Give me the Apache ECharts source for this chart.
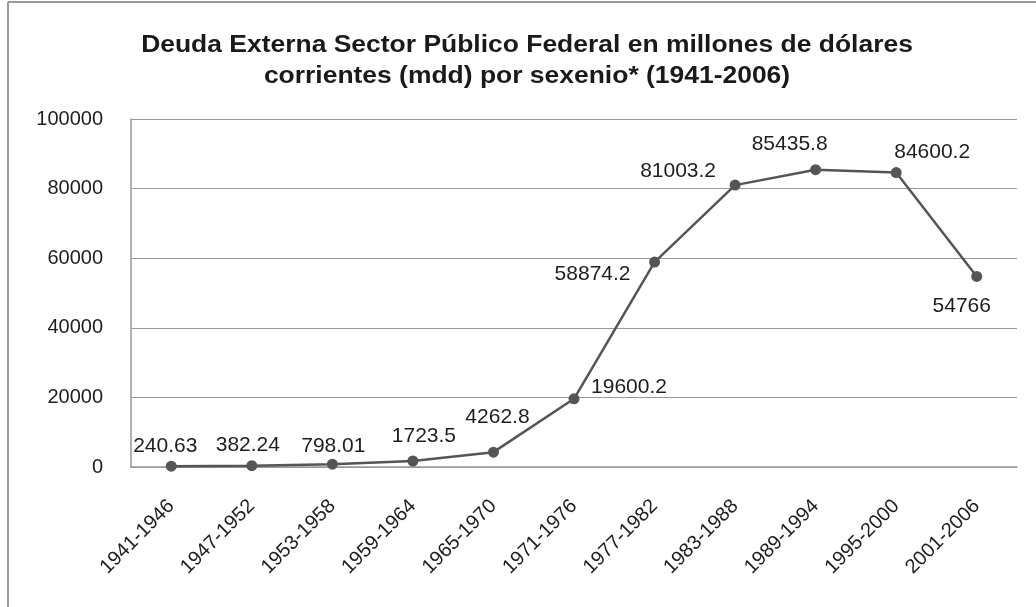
<!DOCTYPE html>
<html>
<head>
<meta charset="utf-8">
<script src="https://cdn.jsdelivr.net/npm/echarts@6/dist/echarts.min.js"></script>
<style>
html,body{margin:0;padding:0;background:#fff;}
#c{width:1036px;height:607px;}
</style>
</head>
<body>
<div id="c"></div>
<script>
var titleLines = ['Deuda Externa Sector Público Federal en millones de dólares', 'corrientes (mdd) por sexenio* (1941-2006)'];
var categories = ['1941-1946','1947-1952','1953-1958','1959-1964','1965-1970','1971-1976','1977-1982','1983-1988','1989-1994','1995-2000','2001-2006'];
var values = [240.63, 382.24, 798.01, 1723.5, 4262.8, 19600.2, 58874.2, 81003.2, 85435.8, 84600.2, 54766];
var labelOffsets = [[-6,-20],[-4,-20],[1,-18],[11,-25],[4,-35],[55,-12],[-62,12],[-57,-14],[-26,-25],[36,-20],[-15,30]];

var chart = echarts.init(document.getElementById('c'));
var font = '"Liberation Sans", Arial, sans-serif';
chart.setOption({
  animation: false,
  backgroundColor: '#fff',
  textStyle: {fontFamily: font},
  graphic: [
    {type: 'line', shape: {x1: 8, y1: 2, x2: 8, y2: 607}, style: {stroke: '#9a9a9a', lineWidth: 2}},
    {type: 'line', shape: {x1: 8, y1: 2, x2: 1036, y2: 2}, style: {stroke: '#9a9a9a', lineWidth: 2}},
    {type: 'text', x: 527, y: 46, scaleX: 1.15,
     style: {text: titleLines[0], fill: '#1a1a1a', font: 'bold 23px ' + font, textAlign: 'center', textVerticalAlign: 'middle'}},
    {type: 'text', x: 527, y: 77, scaleX: 1.15,
     style: {text: titleLines[1], fill: '#1a1a1a', font: 'bold 23px ' + font, textAlign: 'center', textVerticalAlign: 'middle'}}
  ],
  grid: {left: 131, right: 19, top: 119, bottom: 140, containLabel: false},
  xAxis: {
    type: 'category',
    data: categories,
    boundaryGap: true,
    axisLine: {show: true, lineStyle: {color: '#999', width: 1.5}},
    axisTick: {show: false},
    axisLabel: {rotate: 45, fontSize: 20, color: '#1e1e1e', margin: 36, interval: 0, fontFamily: font}
  },
  yAxis: {
    type: 'value',
    min: 0, max: 100000, interval: 20000,
    axisLine: {show: true, lineStyle: {color: '#999', width: 1.5}},
    axisTick: {show: false},
    axisLabel: {fontSize: 20, color: '#1e1e1e', margin: 28, fontFamily: font,
      formatter: function (v) { return String(v); }},
    splitLine: {lineStyle: {color: '#999', width: 1}}
  },
  series: [{
    type: 'line',
    data: values.map(function (v, i) {
      return {value: v, label: {offset: labelOffsets[i]}};
    }),
    symbol: 'circle',
    symbolSize: 11,
    lineStyle: {color: '#555', width: 2.5},
    itemStyle: {color: '#555'},
    label: {
      show: true, position: 'inside', fontSize: 21, color: '#1e1e1e', fontFamily: font,
      formatter: function (p) { return String(p.value); }
    }
  }]
});
</script>
</body>
</html>
